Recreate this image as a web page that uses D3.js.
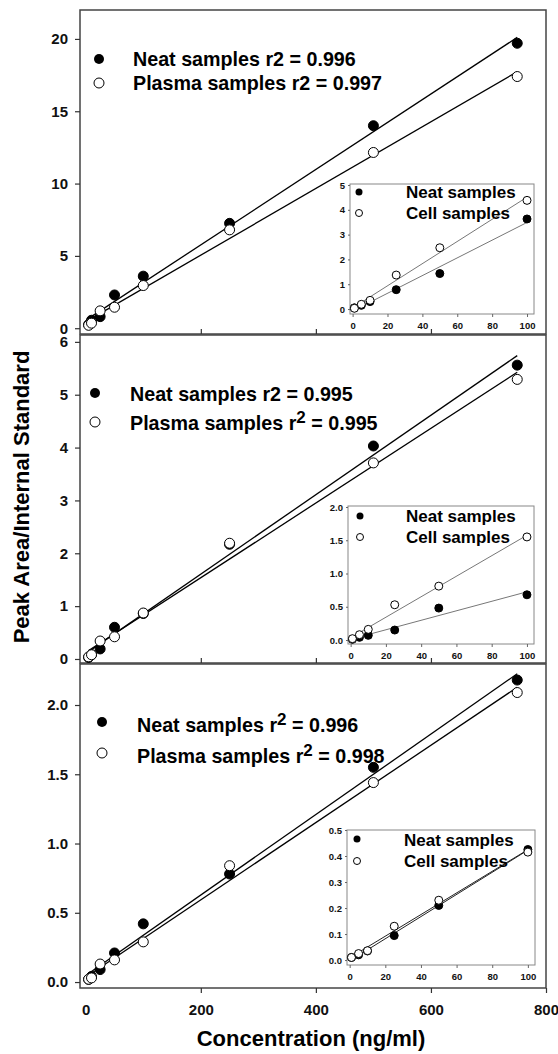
<!DOCTYPE html>
<html>
<head>
<meta charset="utf-8">
<script src="https://cdn.jsdelivr.net/npm/d3@7"></script>
<style>
  body { margin: 0; background: #fff; }
  svg { display: block; font-family: "Liberation Sans", Arial, sans-serif; }
</style>
</head>
<body>
<svg id="chart" width="558" height="1054"></svg>
<script>
// concentrations (ng/ml) for the big plots and for the insets
var conc = [5, 10, 25, 50, 100, 250, 500, 750];
var insetConc = [1, 5, 10, 25, 50, 100];

var xTicks = [0, 200, 400, 600, 800];
var insetXTicks = [0, 20, 40, 60, 80, 100];

// top plot
var neat1 = [0.25, 0.55, 0.8, 2.3, 3.6, 7.25, 14.0, 19.7];
var plasma1 = [0.2, 0.35, 1.2, 1.45, 2.95, 6.8, 12.15, 17.4];
var r2Neat1 = "0.996", r2Plasma1 = "0.997";
var yTicks1 = [0, 5, 10, 15, 20];
var insetNeat1 = [0.05, 0.15, 0.3, 0.78, 1.43, 3.63];
var insetCell1 = [0.03, 0.19, 0.35, 1.37, 2.47, 4.38];
var insetYTicks1 = [0, 1, 2, 3, 4, 5];

// middle plot
var neat2 = [0.03, 0.08, 0.19, 0.6, 0.86, 2.17, 4.03, 5.56];
var plasma2 = [0.04, 0.08, 0.34, 0.42, 0.87, 2.19, 3.71, 5.29];
var r2Neat2 = "0.995", r2Plasma2 = "0.995";
var yTicks2 = [0, 1, 2, 3, 4, 5, 6];
var insetNeat2 = [0.01, 0.04, 0.07, 0.15, 0.48, 0.68];
var insetCell2 = [0.02, 0.08, 0.16, 0.53, 0.81, 1.55];
var insetYTicks2 = [0, 0.5, 1.0, 1.5, 2.0];

// bottom plot
var neat3 = [0.02, 0.04, 0.09, 0.21, 0.42, 0.78, 1.55, 2.18];
var plasma3 = [0.02, 0.03, 0.13, 0.16, 0.29, 0.84, 1.44, 2.09];
var r2Neat3 = "0.996", r2Plasma3 = "0.998";
var yTicks3 = [0, 0.5, 1.0, 1.5, 2.0];
var insetNeat3 = [0.01, 0.02, 0.035, 0.094, 0.21, 0.425];
var insetCell3 = [0.01, 0.025, 0.036, 0.13, 0.23, 0.415];
var insetYTicks3 = [0, 0.1, 0.2, 0.3, 0.4, 0.5];

var svg = d3.select("#chart");

var left = 80, right = 546;
var x = d3.scaleLinear().domain([-10, 800]).range([left, right]);

// simple least squares line
function fitLine(xs, ys) {
    var mx = d3.mean(xs), my = d3.mean(ys);
    var sxy = d3.sum(xs, (v, i) => (v - mx) * (ys[i] - my));
    var sxx = d3.sum(xs, v => (v - mx) * (v - mx));
    var b = sxy / sxx;
    return { a: my - b * mx, b: b };
}

function drawFit(g, xs, ys, xs_, ys_, color, width) {
    var f = fitLine(xs, ys);
    var ends = d3.extent(xs);
    g.append("path")
        .datum(ends)
        .attr("fill", "none")
        .attr("stroke", color)
        .attr("stroke-width", width)
        .attr("d", d3.line().x(d => xs_(d)).y(d => ys_(f.a + f.b * d)));
}

function drawDots(g, xs, ys, xs_, ys_, r, filled) {
    g.selectAll(null)
        .data(xs.map((v, i) => [v, ys[i]]))
        .enter()
        .append("circle")
        .attr("cx", d => xs_(d[0]))
        .attr("cy", d => ys_(d[1]))
        .attr("r", r)
        .attr("fill", filled ? "#000" : "#fff")
        .attr("stroke", "#000")
        .attr("stroke-width", 1);
}

// legend label, optionally with a raised 2
function legendText(g, xPos, yPos, name, r2, sup, size, weight) {
    var t = g.append("text")
        .attr("x", xPos)
        .attr("y", yPos)
        .attr("font-size", size)
        .attr("font-weight", weight)
        .attr("fill", "#000");
    if (r2 === null) {
        t.text(name);
        return;
    }
    if (sup) {
        t.append("tspan").text(name + " r");
        t.append("tspan").attr("dy", -7).attr("font-size", 17).text("2");
        t.append("tspan").attr("dy", 7).text(" = " + r2);
    } else {
        t.text(name + " r2 = " + r2);
    }
}

function drawPanel(p) {
    var g = svg.append("g");
    var y = d3.scaleLinear().domain(p.yDomain).range([p.bottom, p.top]);

    g.append("rect")
        .attr("x", left).attr("y", p.top)
        .attr("width", right - left).attr("height", p.bottom - p.top)
        .attr("fill", "#fff")
        .attr("stroke", "#444")
        .attr("stroke-width", 1.5);

    // y axis
    var ya = g.append("g")
        .attr("transform", "translate(" + left + ",0)")
        .call(d3.axisLeft(y).tickValues(p.yTicks).tickFormat(p.yFmt)
            .tickSize(5).tickPadding(7).tickSizeOuter(0));
    ya.select(".domain").remove();
    ya.selectAll("line").attr("stroke", "#333").attr("stroke-width", 1.2);
    ya.selectAll("text").attr("font-size", 15).attr("font-weight", "bold")
        .attr("font-family", "Liberation Sans, Arial, sans-serif").attr("fill", "#111");

    // x axis
    var xa;
    if (p.labels) {
        xa = g.append("g")
            .attr("transform", "translate(0," + p.bottom + ")")
            .call(d3.axisBottom(x).tickValues(xTicks).tickFormat(d3.format("d"))
                .tickSize(5).tickPadding(11).tickSizeOuter(0));
        xa.selectAll("text").attr("font-size", 15).attr("font-weight", "bold")
            .attr("font-family", "Liberation Sans, Arial, sans-serif").attr("fill", "#111");
        xa.selectAll(".tick line").filter(d => d === 0).remove();
    } else {
        xa = g.append("g")
            .attr("transform", "translate(0," + p.bottom + ")")
            .call(d3.axisBottom(x).tickValues([200, 400, 600]).tickFormat("")
                .tickSize(-5).tickSizeOuter(0));
    }
    xa.select(".domain").remove();
    xa.selectAll("line").attr("stroke", "#333").attr("stroke-width", 1.2);

    // fitted lines and points
    drawFit(g, conc, p.neat, x, y, "#000", 1.3);
    drawFit(g, conc, p.plasma, x, y, "#000", 1.3);
    drawDots(g, conc, p.neat, x, y, 5, true);
    drawDots(g, conc, p.plasma, x, y, 5, false);

    // legend
    var L = p.legend;
    g.append("circle").attr("cx", L.mx).attr("cy", L.my1).attr("r", 5).attr("fill", "#000");
    g.append("circle").attr("cx", L.mx).attr("cy", L.my2).attr("r", 5)
        .attr("fill", "#fff").attr("stroke", "#000").attr("stroke-width", 1);
    legendText(g, L.tx, L.ty1, "Neat samples", p.r2[0], L.sup[0], 19.7, "bold");
    legendText(g, L.tx, L.ty2, "Plasma samples", p.r2[1], L.sup[1], 19.7, "bold");

    drawInset(p.inset);
}

function drawInset(s) {
    var g = svg.append("g");
    var ix = d3.scaleLinear().domain([-1.5, 104]).range([s.left, s.right]);
    var iy = d3.scaleLinear().domain(s.yDomain).range([s.bottom, s.top]);

    g.append("rect")
        .attr("x", s.left).attr("y", s.top)
        .attr("width", s.right - s.left).attr("height", s.bottom - s.top)
        .attr("fill", "#fff")
        .attr("stroke", "#888")
        .attr("stroke-width", 1);

    var ya = g.append("g")
        .attr("transform", "translate(" + s.left + ",0)")
        .call(d3.axisLeft(iy).tickValues(s.yTicks).tickFormat(s.yFmt)
            .tickSize(2).tickPadding(3).tickSizeOuter(0));
    var xa = g.append("g")
        .attr("transform", "translate(0," + s.bottom + ")")
        .call(d3.axisBottom(ix).tickValues(insetXTicks).tickFormat(d3.format("d"))
            .tickSize(3).tickPadding(5).tickSizeOuter(0));
    [ya, xa].forEach(a => {
        a.select(".domain").remove();
        a.selectAll("line").attr("stroke", "#666");
        a.selectAll("text").attr("font-size", 9.5).attr("font-weight", "bold")
            .attr("font-family", "Liberation Sans, Arial, sans-serif").attr("fill", "#111");
    });

    drawFit(g, insetConc, s.neat, ix, iy, s.lineColor, 1);
    drawFit(g, insetConc, s.cell, ix, iy, s.lineColor, 1);
    drawDots(g, insetConc, s.neat, ix, iy, 4, true);
    drawDots(g, insetConc, s.cell, ix, iy, 4, false);

    g.append("circle").attr("cx", s.mx).attr("cy", s.my1).attr("r", 3.5).attr("fill", "#000");
    g.append("circle").attr("cx", s.mx).attr("cy", s.my2).attr("r", 3.5)
        .attr("fill", "#fff").attr("stroke", "#000").attr("stroke-width", 1);
    legendText(g, s.tx, s.ty1, "Neat samples", null, false, 17, "bold");
    legendText(g, s.tx, s.ty2, "Cell samples", null, false, 17, "bold");
}

var panels = [
    {
        top: 10, bottom: 334, yDomain: [-0.4, 22], yTicks: yTicks1, yFmt: d3.format("d"),
        neat: neat1, plasma: plasma1, r2: [r2Neat1, r2Plasma1], labels: false,
        legend: { mx: 99, my1: 59, my2: 83, tx: 133, ty1: 66, ty2: 90, sup: [false, false] },
        inset: {
            left: 350, right: 534, top: 184, bottom: 314, yDomain: [-0.2, 5.04],
            yTicks: insetYTicks1, yFmt: d3.format("d"),
            neat: insetNeat1, cell: insetCell1, lineColor: "#777",
            mx: 359, my1: 192, my2: 213, tx: 406, ty1: 198, ty2: 219
        }
    },
    {
        top: 335, bottom: 663, yDomain: [-0.076, 6.13], yTicks: yTicks2, yFmt: d3.format("d"),
        neat: neat2, plasma: plasma2, r2: [r2Neat2, r2Plasma2], labels: false,
        legend: { mx: 95, my1: 393, my2: 422, tx: 130, ty1: 401, ty2: 430, sup: [false, true] },
        inset: {
            left: 348, right: 534, top: 506, bottom: 644, yDomain: [-0.06, 2.015],
            yTicks: insetYTicks2, yFmt: d3.format(".1f"),
            neat: insetNeat2, cell: insetCell2, lineColor: "#777",
            mx: 360, my1: 516, my2: 537, tx: 406, ty1: 522, ty2: 543
        }
    },
    {
        top: 664, bottom: 988, yDomain: [-0.043, 2.296], yTicks: yTicks3, yFmt: d3.format(".1f"),
        neat: neat3, plasma: plasma3, r2: [r2Neat3, r2Plasma3], labels: true,
        legend: { mx: 102, my1: 722, my2: 753, tx: 137, ty1: 732, ty2: 763, sup: [true, true] },
        inset: {
            left: 347, right: 535, top: 830, bottom: 965, yDomain: [-0.019, 0.5],
            yTicks: insetYTicks3, yFmt: d3.format(".1f"),
            neat: insetNeat3, cell: insetCell3, lineColor: "#222",
            mx: 357, my1: 839, my2: 861, tx: 404, ty1: 846, ty2: 867
        }
    }
];

panels.forEach(drawPanel);

// axis titles
svg.append("text")
    .attr("transform", "translate(29,497) rotate(-90)")
    .attr("text-anchor", "middle")
    .attr("font-size", 22)
    .attr("font-weight", "bold")
    .text("Peak Area/Internal Standard");

svg.append("text")
    .attr("x", 311)
    .attr("y", 1046)
    .attr("text-anchor", "middle")
    .attr("font-size", 22)
    .attr("font-weight", "bold")
    .text("Concentration (ng/ml)");
</script>
</body>
</html>
